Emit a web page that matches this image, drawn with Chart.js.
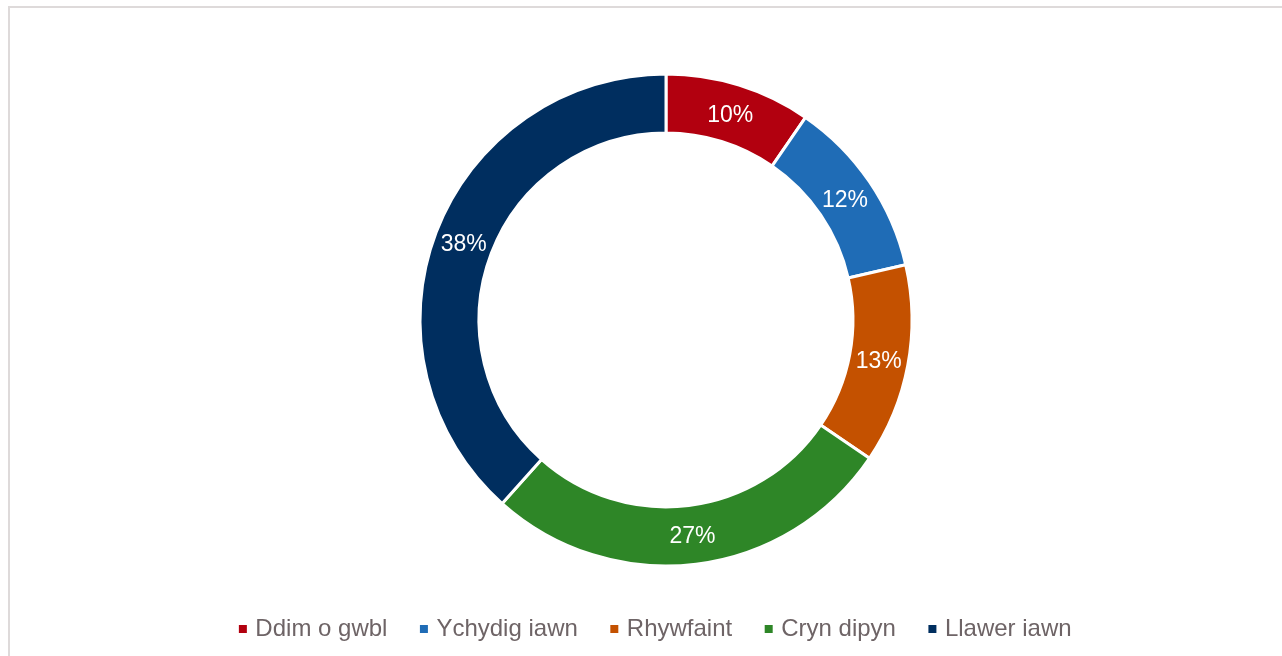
<!DOCTYPE html>
<html>
<head>
<meta charset="utf-8">
<script src="https://cdn.jsdelivr.net/npm/chart.js@4/dist/chart.umd.min.js"></script>
<style>
  html, body { margin: 0; padding: 0; background: #fff; }
  #wrap { position: relative; width: 1282px; height: 656px; overflow: hidden; }
  #frame { position: absolute; left: 8px; top: 6px; width: 1300px; height: 700px; border: 2px solid #DEDADA; box-sizing: border-box; }
  canvas { position: absolute; left: 0; top: 0; }
</style>
</head>
<body>
<div id="wrap">
  <div id="frame"></div>
  <canvas id="c" width="1282" height="656"></canvas>
</div>
<script>
const categories = ["Ddim o gwbl", "Ychydig iawn", "Rhywfaint", "Cryn dipyn", "Llawer iawn"];
const values = [9.6, 11.8, 13.1, 27.1, 38.4];
const valueLabels = ["10%", "12%", "13%", "27%", "38%"];
const colors = ["#B2000F", "#1F6CB6", "#C45100", "#2E8627", "#002E5F"];

const labelPlugin = {
  id: 'sliceLabels',
  afterLayout(chart) {
    // nudge legend slightly left, as in the reference
    if (chart.legend) { chart.legend.left -= 9; chart.legend.right -= 9; }
  },
  afterDatasetsDraw(chart) {
    const ctx = chart.ctx;
    const meta = chart.getDatasetMeta(0);
    ctx.save();
    ctx.font = '23px "Liberation Sans", Arial, sans-serif';
    ctx.fillStyle = '#ffffff';
    ctx.textAlign = 'center';
    ctx.textBaseline = 'middle';
    meta.data.forEach((arc, i) => {
      const p = arc.tooltipPosition();
      ctx.fillText(valueLabels[i], p.x, p.y + 2);
    });
    ctx.restore();
  }
};

new Chart(document.getElementById('c'), {
  type: 'doughnut',
  data: {
    labels: categories,
    datasets: [{
      data: values,
      backgroundColor: colors,
      borderColor: '#ffffff',
      borderWidth: 3,
      hoverOffset: 0,
      pointStyle: 'rect'
    }]
  },
  options: {
    responsive: false,
    animation: false,
    radius: 246,
    cutout: '76%',
    layout: { padding: { top: 59, left: 50, right: 0, bottom: 5 } },
    plugins: {
      tooltip: { enabled: false },
      legend: {
        position: 'bottom',
        labels: {
          usePointStyle: true,
          pointStyle: 'rect',
          boxWidth: 1,
          boxHeight: 8,
          padding: 36,
          color: '#6E6466',
          font: { family: '"Liberation Sans", Arial, sans-serif', size: 24 },
          generateLabels(chart) {
            const items = Chart.overrides.doughnut.plugins.legend.labels.generateLabels(chart);
            items.forEach(it => { it.lineWidth = 0; it.strokeStyle = it.fillStyle; it.pointStyle = 'rect'; });
            return items;
          }
        }
      }
    }
  },
  plugins: [labelPlugin]
});
</script>
</body>
</html>
